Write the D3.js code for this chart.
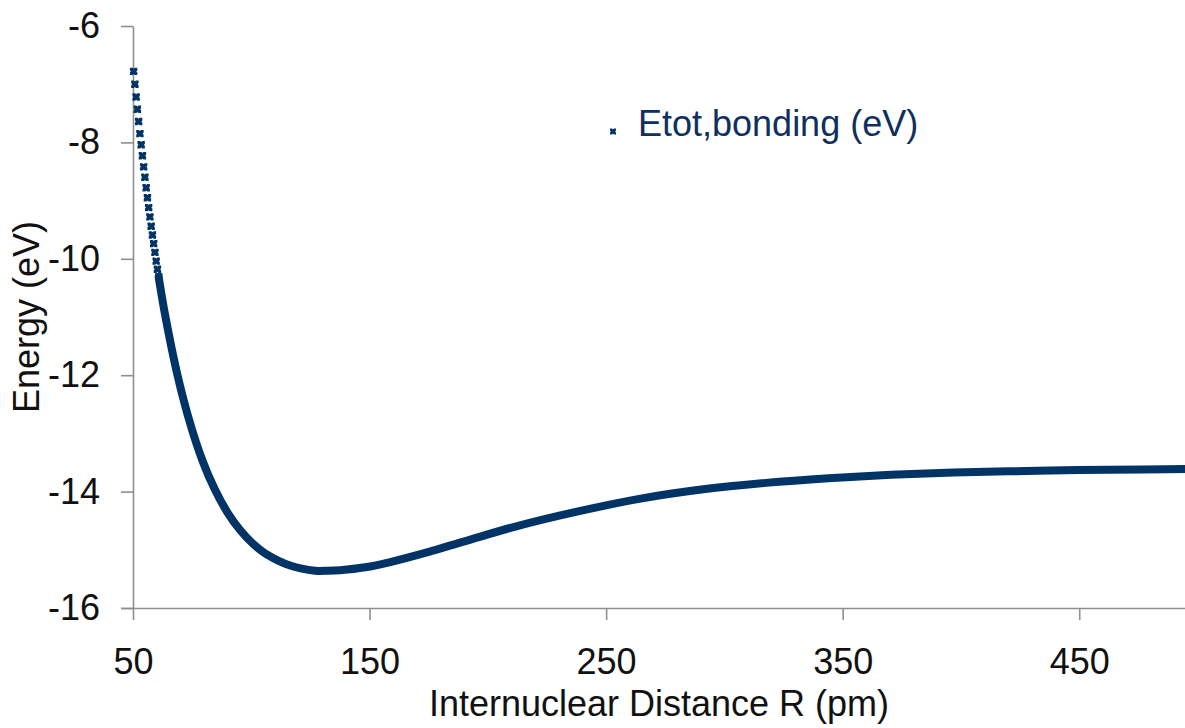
<!DOCTYPE html>
<html>
<head>
<meta charset="utf-8">
<script src="https://cdn.jsdelivr.net/npm/d3@7"></script>
<style>
  html, body { margin: 0; padding: 0; background: #ffffff; }
  svg { display: block; font-family: "Liberation Sans", Arial, sans-serif; }
</style>
</head>
<body>
<svg id="chart" width="1185" height="728"></svg>
<script>
// ---- data ----
// internuclear distance R (pm) and total bonding energy (eV)
const distance = [
  50.27, 50.80, 51.33, 51.86, 52.39, 52.92, 53.45, 53.98, 54.51, 55.04,
  55.57, 56.10, 56.62, 57.15, 57.68, 58.21, 58.74, 59.27, 59.80, 60.33,
  60.86, 61.39, 63.50, 68.80, 74.09, 79.38, 84.67, 89.96, 95.26, 100.55,
  105.84, 116.42, 127.01, 132.30, 137.59, 148.18, 158.76, 174.64, 190.51, 211.68,
  238.14, 264.60, 291.06, 317.52, 343.98, 370.44, 396.90, 423.36, 449.82, 476.28,
  502.74
];
const energy = [
  -6.78, -7.00, -7.22, -7.43, -7.64, -7.85, -8.04, -8.23, -8.42, -8.60,
  -8.78, -8.95, -9.12, -9.28, -9.44, -9.59, -9.74, -9.89, -10.04, -10.18,
  -10.31, -10.45, -10.95, -12.00, -12.82, -13.47, -13.97, -14.36, -14.66, -14.89,
  -15.06, -15.27, -15.36, -15.36, -15.35, -15.30, -15.21, -15.04, -14.85, -14.60,
  -14.34, -14.12, -13.96, -13.85, -13.77, -13.71, -13.67, -13.65, -13.63, -13.62,
  -13.61
];
const xTicks = [50, 150, 250, 350, 450];
const yTicks = [-6, -8, -10, -12, -14, -16];
const seriesName = "Etot,bonding (eV)";
const xTitle = "Internuclear Distance R (pm)";
const yTitle = "Energy (eV)";

// ---- drawing ----
const svg = d3.select("#chart");
const navy = "#003366";
const axisGrey = "#8f8f8f";

const x = d3.scaleLinear().domain([50, 500]).range([133, 1197.5]);
const y = d3.scaleLinear().domain([-16, -6]).range([608, 26]);

const points = distance.map((d, i) => ({ r: d, e: energy[i] }));

// axes
const yAxis = d3.axisLeft(y).tickValues(yTicks).tickSize(12).tickSizeOuter(0)
  .tickPadding(21).tickFormat(d => String(d));
const xAxis = d3.axisBottom(x).tickValues(xTicks).tickSize(12).tickSizeOuter(0)
  .tickPadding(28).tickFormat(d => String(d));

const gx = svg.append("g").attr("transform", `translate(0,${y(-16)})`).call(xAxis);
const gy = svg.append("g").attr("transform", `translate(${x(50)},0)`).call(yAxis);

[gx, gy].forEach(g => {
  g.select(".domain").attr("stroke", axisGrey).attr("stroke-width", 1.6);
  g.selectAll(".tick line").attr("stroke", axisGrey).attr("stroke-width", 1.6);
  g.selectAll(".tick text").attr("fill", "#111").attr("font-size", 36)
    .attr("font-family", "'Liberation Sans', Arial, sans-serif");
});
// extend x-axis line to the left under the -16 tick
gx.select(".domain").attr("d", `M${x(50) - 12},0.5H${x(500)}`);

// axis titles
svg.append("text")
  .attr("x", 659).attr("y", 716)
  .attr("text-anchor", "middle")
  .attr("font-size", 36).attr("fill", "#111")
  .text(xTitle);

svg.append("text")
  .attr("transform", `translate(39,${(y(-6) + y(-16)) / 2}) rotate(-90)`)
  .attr("text-anchor", "middle")
  .attr("font-size", 36).attr("fill", "#111")
  .text(yTitle);

// thick band where the dense markers overlap
const bandStart = distance.indexOf(60.86);
const line = d3.line().x(d => x(d.r)).y(d => y(d.e)).curve(d3.curveCatmullRom.alpha(0.5));
svg.append("path")
  .datum(points.slice(bandStart))
  .attr("fill", "none")
  .attr("stroke", navy)
  .attr("stroke-width", 8)
  .attr("stroke-linecap", "round")
  .attr("d", line);

// marker: small square with x-notches
function markerShape(h, d, n) {
  return `M${-h},${-h}L${-n},${-h}L0,${-h + d}L${n},${-h}L${h},${-h}` +
         `L${h},${-n}L${h - d},0L${h},${n}L${h},${h}` +
         `L${n},${h}L0,${h - d}L${-n},${h}L${-h},${h}` +
         `L${-h},${n}L${-h + d},0L${-h},${-n}Z`;
}
const markerPath = markerShape(3.7, 1.0, 1.0);
svg.append("g").selectAll("path")
  .data(points.slice(0, bandStart + 1))
  .join("path")
  .attr("transform", d => `translate(${x(d.r)},${y(d.e)})`)
  .attr("d", markerPath)
  .attr("fill", navy);

// legend
const lg = svg.append("g");
lg.append("path")
  .attr("transform", "translate(613,131.5)")
  .attr("d", markerShape(3.0, 0.9, 0.9))
  .attr("fill", navy);
lg.append("text")
  .attr("x", 638).attr("y", 136)
  .attr("font-size", 36).attr("fill", "#0f2f60")
  .text(seriesName);
</script>
</body>
</html>
